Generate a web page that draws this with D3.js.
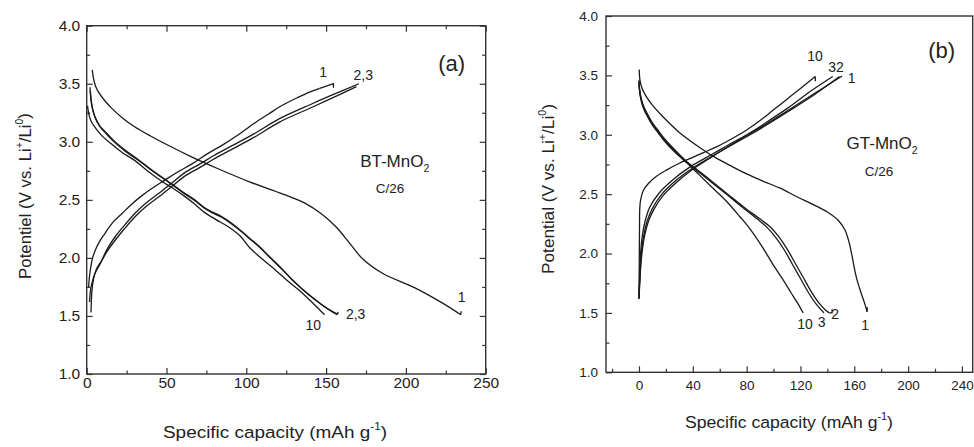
<!DOCTYPE html>
<html><head><meta charset="utf-8">
<script src="https://cdn.jsdelivr.net/npm/d3@7"></script>
<style>
html,body{margin:0;padding:0;background:#fff;}
svg text{font-family:"Liberation Sans",Arial,Helvetica,sans-serif;fill:#222;}
</style></head>
<body><svg id="chart" width="974" height="447"></svg>
<script>
// ---------- DATA ----------
// Axis ticks
const yTicks = [1.0,1.5,2.0,2.5,3.0,3.5,4.0];
const yMinor = [1.25,1.75,2.25,2.75,3.25,3.75];
const xTicksA = [0,50,100,150,200,250];
const xMinorA = [25,75,125,175,225];
const xTicksB = [0,40,80,120,160,200,240];
const xMinorB = [-20,20,60,100,140,180,220];

// Panel (a) BT-MnO2 : [capacity mAh/g, potential V]
const dischargeA1 = [[3.5,3.62],[4.2,3.55],[5.5,3.48],[7.3,3.43],[11,3.36],[15.6,3.29],[22,3.21],[30,3.13],[40,3.05],[51,2.97],[65,2.875],[82,2.77],[102,2.655],[123,2.55],[137,2.47],[147,2.38],[156,2.27],[164.6,2.13],[173,1.99],[185,1.87],[206,1.74],[223,1.61],[234.4,1.51]];
const dischargeA2 = [[2.1,3.47],[2.5,3.38],[3.5,3.29],[5.2,3.215],[8,3.14],[11.4,3.09],[17,3.01],[24,2.93],[32,2.85],[40.6,2.76],[53,2.64],[60,2.57],[67.7,2.50],[73,2.44],[78,2.40],[84,2.36],[90.6,2.30],[97,2.23],[102,2.17],[108,2.10],[114.6,2.01],[122,1.91],[129,1.81],[136,1.72],[143.7,1.635],[150,1.57],[157.3,1.515]];
const dischargeA3 = [[2.3,3.44],[2.8,3.36],[3.8,3.28],[5.5,3.20],[8.3,3.13],[11.8,3.075],[17.5,2.995],[24.5,2.915],[33,2.835],[41,2.75],[53.5,2.63],[60.5,2.56],[68,2.49],[73.5,2.43],[78.5,2.39],[84.5,2.35],[91,2.29],[97.5,2.22],[102.5,2.16],[108.5,2.09],[115,2.00],[122.5,1.90],[129.5,1.80],[136.5,1.715],[144,1.63],[150.5,1.565],[157,1.51]];
const dischargeA10 = [[0.5,3.31],[1.5,3.23],[3,3.17],[5.5,3.12],[9,3.06],[15.6,2.98],[22,2.91],[30,2.84],[38,2.75],[47,2.66],[54,2.60],[61.4,2.53],[68,2.46],[74,2.39],[81,2.33],[88.5,2.27],[96,2.19],[102,2.09],[110,1.99],[118.7,1.89],[126,1.80],[133.3,1.72],[141,1.62],[149,1.51]];
const chargeA1 = [[1.2,1.75],[1.6,1.82],[2.3,1.90],[3.5,1.99],[5.5,2.07],[8,2.14],[11.4,2.21],[16,2.30],[22,2.38],[28,2.46],[34,2.53],[41,2.60],[49,2.67],[57,2.74],[66,2.81],[76,2.90],[86,2.98],[95,3.06],[105,3.16],[114,3.24],[122,3.31],[132,3.38],[140,3.43],[146,3.46]];
const chargeA2 = [[2.7,1.53],[2.9,1.62],[3.3,1.72],[4.3,1.82],[6,1.90],[9.4,1.98],[13,2.08],[17.7,2.18],[23,2.27],[30,2.38],[37,2.47],[45,2.555],[53,2.64],[61,2.73],[71,2.81],[82,2.90],[93,2.98],[105,3.07],[120.8,3.20],[141.6,3.33],[155,3.41],[170.5,3.50]];
const chargeA3 = [[1.8,1.62],[2.2,1.70],[3.2,1.78],[5,1.86],[8.5,1.95],[12.5,2.05],[17.7,2.15],[23,2.24],[30,2.35],[37,2.44],[45,2.525],[53,2.61],[61,2.70],[71,2.78],[82,2.87],[93,2.95],[105,3.04],[120.8,3.17],[141.6,3.30],[155,3.385],[169,3.475]];
// end hooks of panel (a)
const hookDischargeA1 = [[234.4,1.51],[234.6,1.54]];
const hookDischargeA2 = [[157.3,1.515],[157.4,1.535]];
const hookChargeA1 = [[146,3.46],[154.6,3.50],[154.6,3.465]];

// Panel (b) GT-MnO2
const dischargeB1 = [[0.2,3.55],[0.6,3.47],[2,3.40],[5,3.33],[10,3.25],[18,3.15],[30,3.02],[43,2.91],[55,2.82],[68,2.74],[80,2.67],[92,2.61],[105,2.55],[117,2.48],[130,2.41],[140,2.35],[148,2.28],[153,2.20],[156,2.10],[158,2.00],[160,1.88],[162,1.78],[165,1.67],[168,1.57],[169.5,1.51]];
const dischargeB2 = [[0,3.46],[0.5,3.38],[1.8,3.30],[3.5,3.24],[6,3.18],[10,3.10],[14,3.04],[18,2.98],[26,2.88],[35,2.78],[45,2.69],[55,2.60],[66,2.50],[78,2.39],[90,2.29],[98,2.22],[104,2.14],[110,2.04],[116,1.92],[122,1.80],[128,1.68],[134,1.58],[139,1.52],[141.5,1.50]];
const dischargeB3 = [[0,3.44],[0.5,3.36],[1.8,3.28],[3.5,3.22],[6,3.16],[10,3.08],[14,3.02],[18,2.96],[26,2.86],[35,2.77],[45,2.68],[55,2.59],[66,2.49],[78,2.38],[88,2.29],[96,2.21],[102,2.13],[108,2.03],[114,1.91],[120,1.79],[126,1.67],[132,1.57],[137.5,1.50]];
const dischargeB10 = [[0,3.45],[0.5,3.37],[1.8,3.29],[3.5,3.23],[6,3.17],[10,3.09],[14,3.03],[18,2.97],[26,2.87],[35,2.77],[45,2.66],[55,2.55],[65,2.44],[75,2.31],[83,2.20],[92,2.05],[100,1.90],[107,1.78],[113,1.67],[118,1.58],[122,1.50]];
const chargeB1 = [[0,1.62],[0.5,1.8],[1.2,2.0],[2.5,2.15],[4.5,2.27],[8,2.39],[15,2.51],[25,2.62],[38,2.73],[55,2.84],[72,2.95],[90,3.06],[110,3.20],[130,3.345],[151,3.495]];
const chargeB2 = [[0,1.62],[0.8,1.8],[1.8,2.0],[3.5,2.15],[6,2.27],[10,2.38],[17,2.50],[27,2.61],[40,2.72],[56,2.83],[73,2.94],[90,3.05],[110,3.19],[130,3.335],[149,3.49]];
const chargeB3 = [[0,1.64],[1,1.85],[2.2,2.0],[4.2,2.15],[7,2.27],[11,2.37],[18,2.49],[28,2.60],[40,2.71],[55,2.82],[72,2.94],[90,3.07],[110,3.22],[128,3.37],[144,3.49]];
const chargeB10 = [[0,1.62],[0.2,1.9],[0.4,2.2],[0.6,2.38],[1.2,2.45],[3.2,2.53],[7,2.59],[13,2.65],[20,2.70],[30,2.76],[40,2.81],[48,2.85],[58,2.90],[68,2.96],[80,3.04],[90,3.12],[100,3.21],[110,3.30],[120,3.39],[131,3.49]];
const hookDischargeB1 = [[169.5,1.51],[169.6,1.55]];
const hookDischargeB2 = [[141.5,1.50],[143.5,1.50],[143.5,1.53]];
const hookChargeB10 = [[131,3.49],[131.1,3.45]];

// Cycle-number annotations [label, x, y]
const labelsA = [["1",148.2,3.60],["2,3",173.3,3.575],["1",235,1.665],["2,3",168.5,1.52],["10",142,1.42]];
const labelsB = [["10",130.9,3.66],["32",146.5,3.57],["1",158.1,3.475],["10",123.4,1.41],["3",135.8,1.42],["2",145.7,1.49],["1",168,1.40]];

// ---------- DRAW ----------
const svg = d3.select("#chart");
svg.append("rect").attr("width",974).attr("height",447).attr("fill","#fff");

const panels = [
  {key:"a", left:86.7, right:485.7, top:25.7, bottom:374, xDomain:[0,250], xTicks:xTicksA, xMinor:xMinorA,
   mirror:true, tickFont:15.5, xPad:3, yPad:6.5,
   curves:[dischargeA1,dischargeA2,dischargeA3,dischargeA10,chargeA1,chargeA2,chargeA3],
   hooks:[hookDischargeA1,hookDischargeA2,hookChargeA1], labels:labelsA,
   yTitle:"Potentiel", yTitleX:25, yTitleY:196, xTitleY:438, xTitleX:275, xTitleLen:224, titleFont:16.8,
   tag:["(a)",228.7,3.675], name:["BT-MnO",193,2.83], rate:["C/26",190,2.60], nameFont:17},
  {key:"b", left:606, right:972.7, top:16, bottom:372.3, xDomain:[-24.5,248], xTicks:xTicksB, xMinor:xMinorB,
   mirror:false, tickFont:13.5, xPad:8, yPad:8,
   curves:[dischargeB1,dischargeB2,dischargeB3,dischargeB10,chargeB1,chargeB2,chargeB3,chargeB10],
   hooks:[hookDischargeB1,hookDischargeB2,hookChargeB10], labels:labelsB,
   yTitle:"Potential", yTitleX:548, yTitleY:189, xTitleY:428, xTitleX:789, xTitleLen:208, titleFont:17.2,
   tag:["(b)",225,3.71], name:["GT-MnO",180.7,2.93], rate:["C/26",178.4,2.69], nameFont:17}
];

panels.forEach(p=>{
  const x = d3.scaleLinear().domain(p.xDomain).range([p.left,p.right]);
  const y = d3.scaleLinear().domain([1,4]).range([p.bottom,p.top]);
  const g = svg.append("g");
  const fmt = d3.format(".1f");

  g.append("g").attr("transform",`translate(0,${p.bottom})`)
    .call(d3.axisBottom(x).tickValues(p.xTicks).tickSize(-6).tickPadding(p.xPad).tickFormat(d3.format("d")));
  g.append("g").attr("transform",`translate(0,${p.bottom})`)
    .call(d3.axisBottom(x).tickValues(p.xMinor).tickSize(-3.5).tickFormat(""));
  g.append("g").attr("transform",`translate(${p.left},0)`)
    .call(d3.axisLeft(y).tickValues(yTicks).tickSize(-6).tickPadding(p.yPad).tickFormat(fmt));
  g.append("g").attr("transform",`translate(${p.left},0)`)
    .call(d3.axisLeft(y).tickValues(yMinor).tickSize(-3.5).tickFormat(""));
  if(p.mirror){
    g.append("g").attr("transform",`translate(0,${p.top})`)
      .call(d3.axisTop(x).tickValues(p.xTicks).tickSize(-6).tickFormat(""));
    g.append("g").attr("transform",`translate(0,${p.top})`)
      .call(d3.axisTop(x).tickValues(p.xMinor).tickSize(-3.5).tickFormat(""));
    g.append("g").attr("transform",`translate(${p.right},0)`)
      .call(d3.axisRight(y).tickValues(yTicks).tickSize(-6).tickFormat(""));
    g.append("g").attr("transform",`translate(${p.right},0)`)
      .call(d3.axisRight(y).tickValues(yMinor).tickSize(-3.5).tickFormat(""));
  }
  g.selectAll(".domain").remove();
  g.selectAll(".tick line").attr("stroke","#333").attr("stroke-width",1.2);
  g.selectAll(".tick text").attr("font-size",p.tickFont).attr("fill","#222")
    .attr("font-family","Liberation Sans, Arial, sans-serif");

  g.append("rect").attr("x",p.left).attr("y",p.top).attr("width",p.right-p.left).attr("height",p.bottom-p.top)
    .attr("fill","none").attr("stroke","#333").attr("stroke-width",1.4);

  const line = d3.line().x(d=>x(d[0])).y(d=>y(d[1])).curve(d3.curveCatmullRom.alpha(0.5));
  const lin = d3.line().x(d=>x(d[0])).y(d=>y(d[1]));
  g.selectAll("path.curve").data(p.curves).join("path").attr("class","curve")
    .attr("d",line).attr("fill","none").attr("stroke","#1a1a1a").attr("stroke-width",1.3);
  g.selectAll("path.hook").data(p.hooks).join("path").attr("class","hook")
    .attr("d",lin).attr("fill","none").attr("stroke","#1a1a1a").attr("stroke-width",1.3);

  g.selectAll("text.cyc").data(p.labels).join("text").attr("class","cyc")
    .attr("x",d=>x(d[1])).attr("y",d=>y(d[2])).attr("dy","0.35em").attr("text-anchor","middle")
    .attr("font-size",14).text(d=>d[0]);

  g.append("text").attr("x",x(p.tag[1])).attr("y",y(p.tag[2])).attr("dy","0.35em").attr("text-anchor","middle")
    .attr("font-size",22).text(p.tag[0]);
  const nm = g.append("text").attr("x",x(p.name[1])).attr("y",y(p.name[2])).attr("dy","0.35em").attr("text-anchor","middle")
    .attr("font-size",p.nameFont);
  nm.append("tspan").text(p.name[0]);
  nm.append("tspan").attr("font-size",p.nameFont*0.62).attr("dy","0.45em").text("2");
  g.append("text").attr("x",x(p.rate[1])).attr("y",y(p.rate[2])).attr("dy","0.35em").attr("text-anchor","middle")
    .attr("font-size",13.5).text(p.rate[0]);

  const xt = g.append("text").attr("x",p.xTitleX).attr("y",p.xTitleY).attr("text-anchor","middle")
    .attr("font-size",p.titleFont).attr("textLength",p.xTitleLen).attr("lengthAdjust","spacingAndGlyphs");
  xt.append("tspan").text("Specific capacity (mAh g");
  xt.append("tspan").attr("font-size",p.titleFont*0.62).attr("dy","-0.75em").text("-1");
  xt.append("tspan").attr("dy","0.45em").text(")");

  const yt = g.append("text").attr("transform",`translate(${p.yTitleX},${p.yTitleY}) rotate(-90)`)
    .attr("text-anchor","middle").attr("dy","0.35em").attr("font-size",p.titleFont);
  yt.append("tspan").text(p.yTitle+" (V vs. Li");
  yt.append("tspan").attr("font-size",p.titleFont*0.62).attr("dy","-0.75em").text("+");
  yt.append("tspan").attr("dy","0.45em").text("/Li");
  yt.append("tspan").attr("font-size",p.titleFont*0.62).attr("dy","-0.75em").text("0");
  yt.append("tspan").attr("dy","0.45em").text(")");
});
</script></body></html>
